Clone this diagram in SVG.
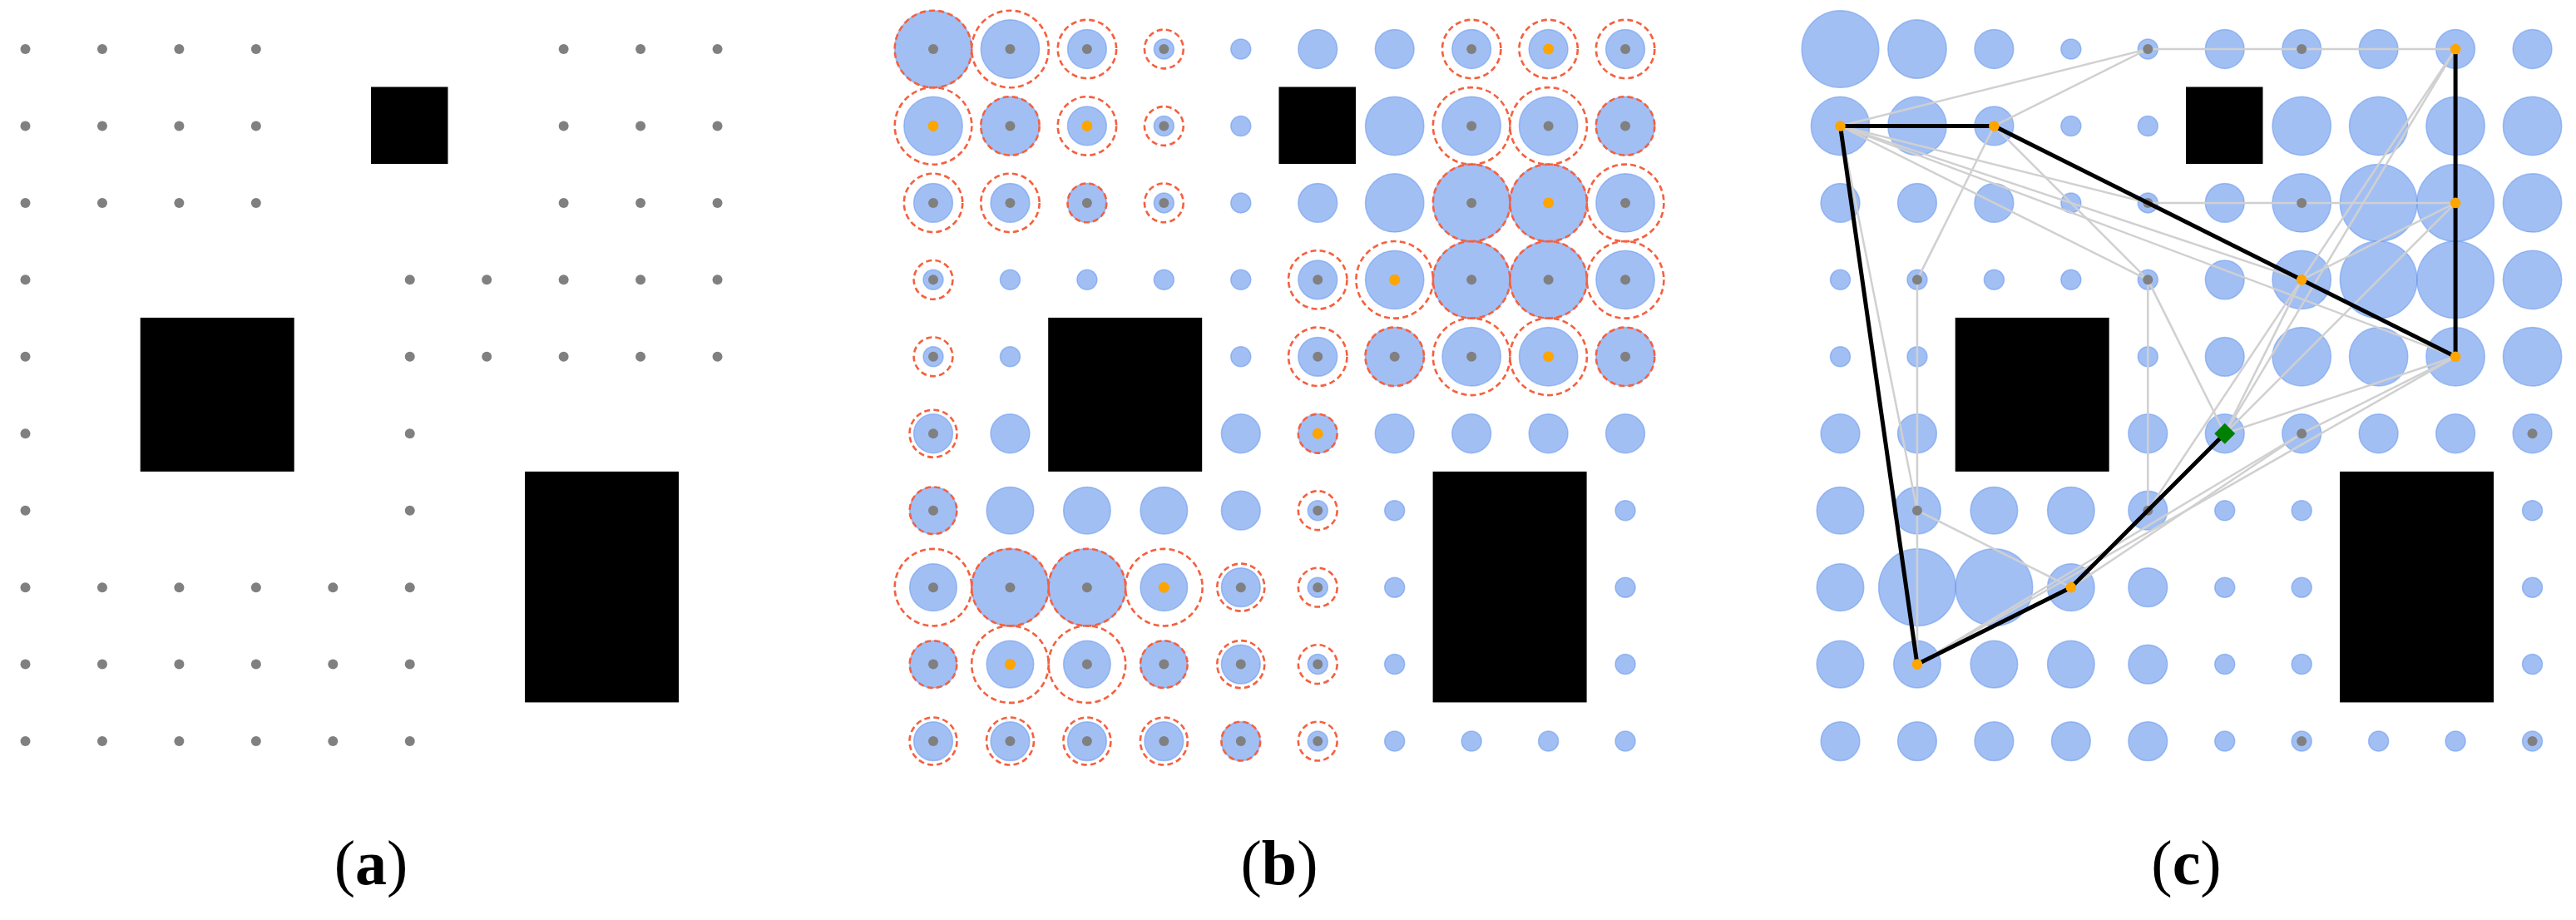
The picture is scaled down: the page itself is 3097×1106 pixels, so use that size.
<svg xmlns="http://www.w3.org/2000/svg" xmlns:xlink="http://www.w3.org/1999/xlink" width="3097" height="1106" viewBox="0 0 3097 1106">
<style>
.bc{fill:#6495ed;fill-opacity:.6;stroke:#6495ed;stroke-opacity:.55;stroke-width:1.5}
.gd{fill:#808080}
.od{fill:#ffa500}
.ds{fill:none;stroke:#f5603f;stroke-width:2.6;stroke-dasharray:7 4.2}
.ob{fill:#000}
.gl{stroke:#d0d0d0;stroke-width:2.5;fill:none}
.bl{stroke:#000;stroke-width:5;fill:none;stroke-linecap:round;stroke-linejoin:round}
.lbl{font-family:"Liberation Serif","Times New Roman",serif;font-size:76px;text-anchor:middle;fill:#000}
</style>
<defs>
<g id="field" class="bc">
<circle cx="0" cy="0" r="46.3"/><circle cx="92.45" cy="0" r="35.2"/><circle cx="184.9" cy="0" r="23.4"/><circle cx="277.35" cy="0" r="12"/><circle cx="369.8" cy="0" r="12"/><circle cx="462.25" cy="0" r="23.4"/><circle cx="554.7" cy="0" r="23.4"/><circle cx="647.15" cy="0" r="23.4"/><circle cx="739.6" cy="0" r="23.4"/><circle cx="832.05" cy="0" r="23.4"/>
<circle cx="0" cy="92.45" r="35.2"/><circle cx="92.45" cy="92.45" r="35.2"/><circle cx="184.9" cy="92.45" r="23.4"/><circle cx="277.35" cy="92.45" r="12"/><circle cx="369.8" cy="92.45" r="12"/><circle cx="554.7" cy="92.45" r="35.2"/><circle cx="647.15" cy="92.45" r="35.2"/><circle cx="739.6" cy="92.45" r="35.2"/><circle cx="832.05" cy="92.45" r="35.2"/>
<circle cx="0" cy="184.9" r="23.4"/><circle cx="92.45" cy="184.9" r="23.4"/><circle cx="184.9" cy="184.9" r="23.4"/><circle cx="277.35" cy="184.9" r="12"/><circle cx="369.8" cy="184.9" r="12"/><circle cx="462.25" cy="184.9" r="23.4"/><circle cx="554.7" cy="184.9" r="35.2"/><circle cx="647.15" cy="184.9" r="46.3"/><circle cx="739.6" cy="184.9" r="46.3"/><circle cx="832.05" cy="184.9" r="35.2"/>
<circle cx="0" cy="277.35" r="12"/><circle cx="92.45" cy="277.35" r="12"/><circle cx="184.9" cy="277.35" r="12"/><circle cx="277.35" cy="277.35" r="12"/><circle cx="369.8" cy="277.35" r="12"/><circle cx="462.25" cy="277.35" r="23.4"/><circle cx="554.7" cy="277.35" r="35.2"/><circle cx="647.15" cy="277.35" r="46.3"/><circle cx="739.6" cy="277.35" r="46.3"/><circle cx="832.05" cy="277.35" r="35.2"/>
<circle cx="0" cy="369.8" r="12"/><circle cx="92.45" cy="369.8" r="12"/><circle cx="369.8" cy="369.8" r="12"/><circle cx="462.25" cy="369.8" r="23.4"/><circle cx="554.7" cy="369.8" r="35.2"/><circle cx="647.15" cy="369.8" r="35.2"/><circle cx="739.6" cy="369.8" r="35.2"/><circle cx="832.05" cy="369.8" r="35.2"/>
<circle cx="0" cy="462.25" r="23.4"/><circle cx="92.45" cy="462.25" r="23.4"/><circle cx="369.8" cy="462.25" r="23.4"/><circle cx="462.25" cy="462.25" r="23.4"/><circle cx="554.7" cy="462.25" r="23.4"/><circle cx="647.15" cy="462.25" r="23.4"/><circle cx="739.6" cy="462.25" r="23.4"/><circle cx="832.05" cy="462.25" r="23.4"/>
<circle cx="0" cy="554.7" r="28.3"/><circle cx="92.45" cy="554.7" r="28.3"/><circle cx="184.9" cy="554.7" r="28.3"/><circle cx="277.35" cy="554.7" r="28.3"/><circle cx="369.8" cy="554.7" r="23.4"/><circle cx="462.25" cy="554.7" r="12"/><circle cx="554.7" cy="554.7" r="12"/><circle cx="832.05" cy="554.7" r="12"/>
<circle cx="0" cy="647.15" r="28.3"/><circle cx="92.45" cy="647.15" r="46.3"/><circle cx="184.9" cy="647.15" r="46.3"/><circle cx="277.35" cy="647.15" r="28.3"/><circle cx="369.8" cy="647.15" r="23.4"/><circle cx="462.25" cy="647.15" r="12"/><circle cx="554.7" cy="647.15" r="12"/><circle cx="832.05" cy="647.15" r="12"/>
<circle cx="0" cy="739.6" r="28.3"/><circle cx="92.45" cy="739.6" r="28.3"/><circle cx="184.9" cy="739.6" r="28.3"/><circle cx="277.35" cy="739.6" r="28.3"/><circle cx="369.8" cy="739.6" r="23.4"/><circle cx="462.25" cy="739.6" r="12"/><circle cx="554.7" cy="739.6" r="12"/><circle cx="832.05" cy="739.6" r="12"/>
<circle cx="0" cy="832.05" r="23.4"/><circle cx="92.45" cy="832.05" r="23.4"/><circle cx="184.9" cy="832.05" r="23.4"/><circle cx="277.35" cy="832.05" r="23.4"/><circle cx="369.8" cy="832.05" r="23.4"/><circle cx="462.25" cy="832.05" r="12"/><circle cx="554.7" cy="832.05" r="12"/><circle cx="647.15" cy="832.05" r="12"/><circle cx="739.6" cy="832.05" r="12"/><circle cx="832.05" cy="832.05" r="12"/>
</g>
<g id="obstacles" class="ob">
<rect x="415.5" y="45.5" width="92.5" height="92.5"/>
<rect x="138.2" y="322.9" width="185" height="185"/>
<rect x="600.6" y="507.9" width="185" height="277.5"/>
</g>
<g id="freepts" class="gd">
<circle cx="0" cy="0" r="6"/><circle cx="92.45" cy="0" r="6"/><circle cx="184.9" cy="0" r="6"/><circle cx="277.35" cy="0" r="6"/><circle cx="647.15" cy="0" r="6"/><circle cx="739.6" cy="0" r="6"/><circle cx="832.05" cy="0" r="6"/>
<circle cx="0" cy="92.45" r="6"/><circle cx="92.45" cy="92.45" r="6"/><circle cx="184.9" cy="92.45" r="6"/><circle cx="277.35" cy="92.45" r="6"/><circle cx="647.15" cy="92.45" r="6"/><circle cx="739.6" cy="92.45" r="6"/><circle cx="832.05" cy="92.45" r="6"/>
<circle cx="0" cy="184.9" r="6"/><circle cx="92.45" cy="184.9" r="6"/><circle cx="184.9" cy="184.9" r="6"/><circle cx="277.35" cy="184.9" r="6"/><circle cx="647.15" cy="184.9" r="6"/><circle cx="739.6" cy="184.9" r="6"/><circle cx="832.05" cy="184.9" r="6"/>
<circle cx="0" cy="277.35" r="6"/><circle cx="462.25" cy="277.35" r="6"/><circle cx="554.7" cy="277.35" r="6"/><circle cx="647.15" cy="277.35" r="6"/><circle cx="739.6" cy="277.35" r="6"/><circle cx="832.05" cy="277.35" r="6"/>
<circle cx="0" cy="369.8" r="6"/><circle cx="462.25" cy="369.8" r="6"/><circle cx="554.7" cy="369.8" r="6"/><circle cx="647.15" cy="369.8" r="6"/><circle cx="739.6" cy="369.8" r="6"/><circle cx="832.05" cy="369.8" r="6"/>
<circle cx="0" cy="462.25" r="6"/><circle cx="462.25" cy="462.25" r="6"/>
<circle cx="0" cy="554.7" r="6"/><circle cx="462.25" cy="554.7" r="6"/>
<circle cx="0" cy="647.15" r="6"/><circle cx="92.45" cy="647.15" r="6"/><circle cx="184.9" cy="647.15" r="6"/><circle cx="277.35" cy="647.15" r="6"/><circle cx="369.8" cy="647.15" r="6"/><circle cx="462.25" cy="647.15" r="6"/>
<circle cx="0" cy="739.6" r="6"/><circle cx="92.45" cy="739.6" r="6"/><circle cx="184.9" cy="739.6" r="6"/><circle cx="277.35" cy="739.6" r="6"/><circle cx="369.8" cy="739.6" r="6"/><circle cx="462.25" cy="739.6" r="6"/>
<circle cx="0" cy="832.05" r="6"/><circle cx="92.45" cy="832.05" r="6"/><circle cx="184.9" cy="832.05" r="6"/><circle cx="277.35" cy="832.05" r="6"/><circle cx="369.8" cy="832.05" r="6"/><circle cx="462.25" cy="832.05" r="6"/>
</g>
</defs>
<rect width="3097" height="1106" fill="#fff"/>

<g id="panel-a" transform="translate(30.5,59)">
<use href="#obstacles"/>
<use href="#freepts"/>
</g>

<g id="panel-b" transform="translate(1122,59)">
<use href="#field"/>
<use href="#obstacles"/>
<g id="b-dashed" class="ds">
<circle cx="0" cy="0" r="46.3"/><circle cx="92.45" cy="0" r="46.3"/><circle cx="184.9" cy="0" r="35.2"/><circle cx="277.35" cy="0" r="23.4"/><circle cx="647.15" cy="0" r="35.2"/><circle cx="739.6" cy="0" r="35.2"/><circle cx="832.05" cy="0" r="35.2"/>
<circle cx="0" cy="92.45" r="46.3"/><circle cx="92.45" cy="92.45" r="35.2"/><circle cx="184.9" cy="92.45" r="35.2"/><circle cx="277.35" cy="92.45" r="23.4"/><circle cx="647.15" cy="92.45" r="46.3"/><circle cx="739.6" cy="92.45" r="46.3"/><circle cx="832.05" cy="92.45" r="35.2"/>
<circle cx="0" cy="184.9" r="35.2"/><circle cx="92.45" cy="184.9" r="35.2"/><circle cx="184.9" cy="184.9" r="23.4"/><circle cx="277.35" cy="184.9" r="23.4"/><circle cx="647.15" cy="184.9" r="46.3"/><circle cx="739.6" cy="184.9" r="46.3"/><circle cx="832.05" cy="184.9" r="46.3"/>
<circle cx="0" cy="277.35" r="23.4"/><circle cx="462.25" cy="277.35" r="35.2"/><circle cx="554.7" cy="277.35" r="46.3"/><circle cx="647.15" cy="277.35" r="46.3"/><circle cx="739.6" cy="277.35" r="46.3"/><circle cx="832.05" cy="277.35" r="46.3"/>
<circle cx="0" cy="369.8" r="23.4"/><circle cx="462.25" cy="369.8" r="35.2"/><circle cx="554.7" cy="369.8" r="35.2"/><circle cx="647.15" cy="369.8" r="46.3"/><circle cx="739.6" cy="369.8" r="46.3"/><circle cx="832.05" cy="369.8" r="35.2"/>
<circle cx="0" cy="462.25" r="28.5"/><circle cx="462.25" cy="462.25" r="23.4"/>
<circle cx="0" cy="554.7" r="28.3"/><circle cx="462.25" cy="554.7" r="23.4"/>
<circle cx="0" cy="647.15" r="46.3"/><circle cx="92.45" cy="647.15" r="46.3"/><circle cx="184.9" cy="647.15" r="46.3"/><circle cx="277.35" cy="647.15" r="46.3"/><circle cx="369.8" cy="647.15" r="28.5"/><circle cx="462.25" cy="647.15" r="23.4"/>
<circle cx="0" cy="739.6" r="28.3"/><circle cx="92.45" cy="739.6" r="46.3"/><circle cx="184.9" cy="739.6" r="46.3"/><circle cx="277.35" cy="739.6" r="28.3"/><circle cx="369.8" cy="739.6" r="28.5"/><circle cx="462.25" cy="739.6" r="23.4"/>
<circle cx="0" cy="832.05" r="28.5"/><circle cx="92.45" cy="832.05" r="28.5"/><circle cx="184.9" cy="832.05" r="28.5"/><circle cx="277.35" cy="832.05" r="28.5"/><circle cx="369.8" cy="832.05" r="23.4"/><circle cx="462.25" cy="832.05" r="23.4"/>
</g>
<use href="#freepts"/>
<g id="b-selected" class="od">
<circle cx="739.6" cy="0" r="6.4"/><circle cx="0" cy="92.45" r="6.4"/><circle cx="184.9" cy="92.45" r="6.4"/><circle cx="739.6" cy="184.9" r="6.4"/><circle cx="554.7" cy="277.35" r="6.4"/><circle cx="739.6" cy="369.8" r="6.4"/><circle cx="462.25" cy="462.25" r="6.4"/><circle cx="277.35" cy="647.15" r="6.4"/><circle cx="92.45" cy="739.6" r="6.4"/>
</g>
</g>

<g id="panel-c" transform="translate(2212.5,59)">
<use href="#field"/>
<use href="#obstacles"/>
<g id="connectors">
<g id="edges-gray" class="gl">
<line x1="369.8" y1="0" x2="554.7" y2="0"/>
<line x1="554.7" y1="0" x2="739.6" y2="0"/>
<line x1="0" y1="92.45" x2="369.8" y2="0"/>
<line x1="184.9" y1="92.45" x2="369.8" y2="0"/>
<line x1="0" y1="92.45" x2="369.8" y2="184.9"/>
<line x1="369.8" y1="184.9" x2="554.7" y2="184.9"/>
<line x1="554.7" y1="184.9" x2="739.6" y2="184.9"/>
<line x1="0" y1="92.45" x2="554.7" y2="277.35"/>
<line x1="0" y1="92.45" x2="739.6" y2="369.8"/>
<line x1="0" y1="92.45" x2="369.8" y2="277.35"/>
<line x1="0" y1="92.45" x2="92.45" y2="554.7"/>
<line x1="184.9" y1="92.45" x2="92.45" y2="277.35"/>
<line x1="184.9" y1="92.45" x2="369.8" y2="277.35"/>
<line x1="92.45" y1="277.35" x2="92.45" y2="554.7"/>
<line x1="92.45" y1="554.7" x2="92.45" y2="739.6"/>
<line x1="92.45" y1="554.7" x2="277.35" y2="647.15"/>
<line x1="369.8" y1="277.35" x2="369.8" y2="554.7"/>
<line x1="369.8" y1="277.35" x2="462.25" y2="462.25"/>
<line x1="369.8" y1="554.7" x2="554.7" y2="277.35"/>
<line x1="554.7" y1="277.35" x2="739.6" y2="0"/>
<line x1="462.25" y1="462.25" x2="554.7" y2="277.35"/>
<line x1="462.25" y1="462.25" x2="739.6" y2="0"/>
<line x1="462.25" y1="462.25" x2="739.6" y2="184.9"/>
<line x1="462.25" y1="462.25" x2="739.6" y2="369.8"/>
<line x1="554.7" y1="277.35" x2="739.6" y2="184.9"/>
<line x1="554.7" y1="462.25" x2="739.6" y2="369.8"/>
<line x1="92.45" y1="739.6" x2="554.7" y2="462.25"/>
<line x1="277.35" y1="647.15" x2="554.7" y2="462.25"/>
<line x1="92.45" y1="739.6" x2="739.6" y2="369.8"/>
</g>
</g>
<g id="nodes-gray" class="gd">
<g id="n4-0"><circle cx="369.8" cy="0" r="6"/></g>
<g id="n6-0"><circle cx="554.7" cy="0" r="6"/></g>
<g id="n4-2"><circle cx="369.8" cy="184.9" r="6"/></g>
<g id="n6-2"><circle cx="554.7" cy="184.9" r="6"/></g>
<g id="n1-3"><circle cx="92.45" cy="277.35" r="6"/></g>
<g id="n4-3"><circle cx="369.8" cy="277.35" r="6"/></g>
<g id="n6-5"><circle cx="554.7" cy="462.25" r="6"/></g>
<g id="n9-5"><circle cx="832.05" cy="462.25" r="6"/></g>
<g id="n1-6"><circle cx="92.45" cy="554.7" r="6"/></g>
<g id="n4-6"><circle cx="369.8" cy="554.7" r="6"/></g>
<g id="n6-9"><circle cx="554.7" cy="832.05" r="6"/></g>
<g id="n9-9"><circle cx="832.05" cy="832.05" r="6"/></g>
</g>
<g id="path-black">
<path class="bl" d="M739.6,0 L739.6,369.8 L184.9,92.45 L0,92.45 L92.45,739.6 L277.35,647.15 L462.25,462.25"/>
</g>
<g id="nodes-path" class="od">
<g id="n8-0"><circle cx="739.6" cy="0" r="6.3"/></g>
<g id="n0-1"><circle cx="0" cy="92.45" r="6.3"/></g>
<g id="n2-1"><circle cx="184.9" cy="92.45" r="6.3"/></g>
<g id="n8-2"><circle cx="739.6" cy="184.9" r="6.3"/></g>
<g id="n6-3"><circle cx="554.7" cy="277.35" r="6.3"/></g>
<g id="n8-4"><circle cx="739.6" cy="369.8" r="6.3"/></g>
<g id="n3-7"><circle cx="277.35" cy="647.15" r="6.3"/></g>
<g id="n1-8"><circle cx="92.45" cy="739.6" r="6.3"/></g>
</g>
<g id="n5-5-goal"><polygon points="462.25,449.75 474.75,462.25 462.25,474.75 449.75,462.25" fill="#008000"/></g>
</g>

<g id="labels">
<text class="lbl" x="446" y="1063">(<tspan font-weight="bold">a</tspan>)</text>
<text class="lbl" x="1538" y="1063">(<tspan font-weight="bold">b</tspan>)</text>
<text class="lbl" x="2628.5" y="1063">(<tspan font-weight="bold">c</tspan>)</text>
</g>
</svg>
